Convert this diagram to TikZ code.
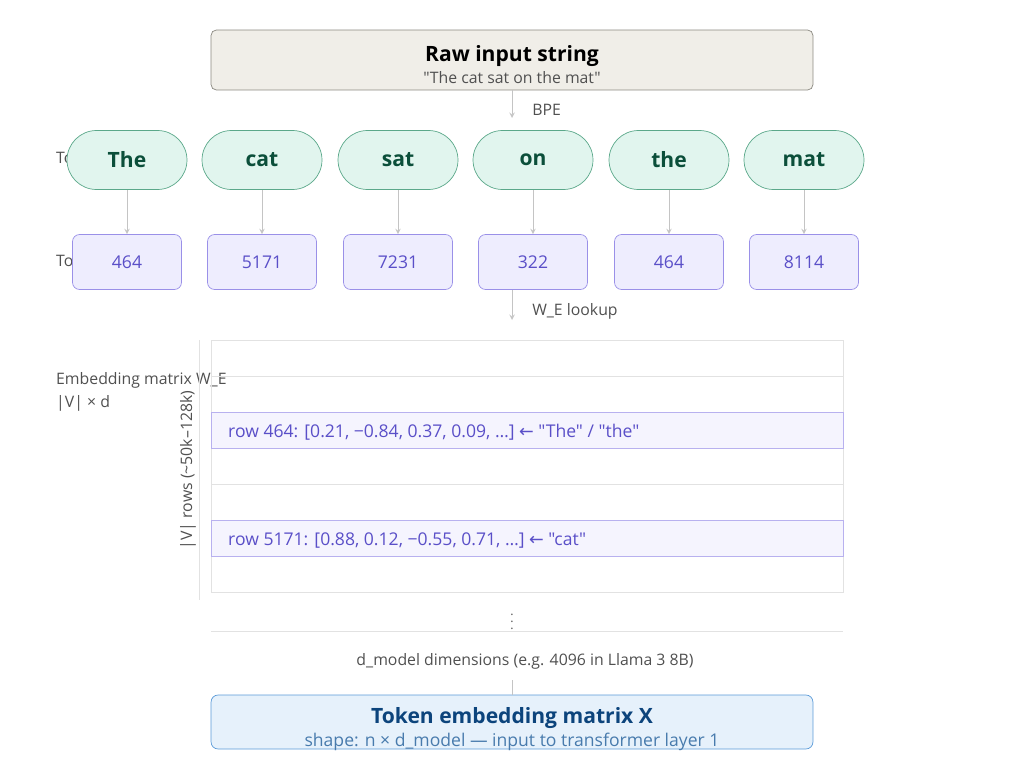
\documentclass[tikz,border=0pt]{standalone}
\usepackage{fontspec}
\setmainfont{Open Sans}[Ligatures=TeXOff]
\newfontfamily\arrowfont{DejaVu Sans}
\usetikzlibrary{positioning}
\definecolor{rawfill}{HTML}{F0EEE8}
\definecolor{rawdraw}{HTML}{8A8880}
\definecolor{tokfill}{HTML}{E1F5EE}
\definecolor{tokdraw}{HTML}{5BA88A}
\definecolor{toktext}{HTML}{0B4F3A}
\definecolor{idfill}{HTML}{EEEDFE}
\definecolor{iddraw}{HTML}{9A90E8}
\definecolor{idtext}{HTML}{5A4FC8}
\definecolor{outfill}{HTML}{E6F1FB}
\definecolor{outdraw}{HTML}{5A9AD8}
\definecolor{outtext}{HTML}{0C447C}
\definecolor{gridline}{HTML}{E2E2E2}
\definecolor{labtext}{HTML}{505050}
\newcommand{\qt}{\symbol{34}}
\newcommand{\larr}{{\arrowfont ←}}
\begin{document}
\begin{tikzpicture}
        [x=0.02cm,y=-0.02cm,>=latex,
         raw/.style={draw=rawdraw,fill=rawfill,rounded corners=3pt,minimum width=12.04cm,minimum height=1.2cm},
         tok/.style={draw=tokdraw,fill=tokfill,rounded corners=0.59cm,minimum width=2.4cm,minimum height=1.18cm,text=toktext,font=\bfseries\large},
         tid/.style={draw=iddraw,fill=idfill,rounded corners=4pt,minimum width=2.18cm,minimum height=1.1cm,text=idtext},
         outbox/.style={draw=outdraw,fill=outfill,rounded corners=4pt,minimum width=12.04cm,minimum height=1.08cm},
         flow/.style={draw=gridline!70!gray,->,>=stealth},
         label/.style={font=\small,text=labtext}]

        \useasboundingbox (0,0) rectangle (1024,767);

        % side labels, partly hidden behind the rows
        \node[label,anchor=west] (toklab) at (50,158) {Tokens};
        \node[label,anchor=west] (idlab) at (50,261) {Token IDs};
        \node[label,anchor=west,align=left] (mlab) at (50,392) {Embedding matrix W\_E\\[2pt]|V| × d};

        \node[raw] (raw) at (512,60) {};
        \node[font=\bfseries\large] (rawt) at (512,56) {Raw input string};
        \node[label] (raws) at (512,78) {\qt The cat sat on the mat\qt};
        \coordinate (bpe) at (512,118);
        \draw[flow] (raw) -- (bpe) node[label,pos=0.7,right=8pt] {BPE};

        \foreach \word/\num/\x [count=\i] in {The/464/127,cat/5171/262,sat/7231/398,on/322/533,the/464/669,mat/8114/804}{
            \node[tok] (t\i) at (\x,160) {\word};
            \node[tid] (id\i) at (\x,262) {\num};
            \draw[flow] (t\i) -- (id\i);
        }

        \coordinate (look) at (512,320);
        \draw[flow] (id4.south -| look) -- (look) node[label,pos=0.7,right=8pt] {W\_E lookup};

        % embedding matrix
        \fill[idfill!60] (211,412) rectangle (843,448);
        \fill[idfill!60] (211,520) rectangle (843,556);
        \draw[gridline] (211,340) rectangle (843,592);
        \foreach \y in {376,484}{\draw[gridline] (211,\y) -- (843,\y);}
        \draw[iddraw!70] (211,412) rectangle (843,448);
        \draw[iddraw!70] (211,520) rectangle (843,556);
        \node[text=idtext,anchor=west] (r464) at (222,432) {row 464: [0.21, −0.84, 0.37, 0.09, …] \larr{} \qt The\qt{} / \qt the\qt};
        \node[text=idtext,anchor=west] (r5171) at (222,541) {row 5171: [0.88, 0.12, −0.55, 0.71, …] \larr{} \qt cat\qt};

        \draw[gridline] (199,340) -- (199,600);
        \node[label,rotate=90] (vrows) at (188,470) {|V| rows (\textasciitilde 50k–128k)};
        \node[text=labtext,font=\scriptsize,inner sep=0pt] (dots) at (512,617) {$\vdots$};
        \draw[gridline] (211,631) -- (843,631);
        \node[label] (dmod) at (525,661) {d\_model dimensions (e.g. 4096 in Llama 3 8B)};

        \node[outbox] (out) at (512,722) {};
        \node[text=outtext,font=\bfseries\large] (outt) at (512,718) {Token embedding matrix X};
        \node[text=outdraw!80!black] (outs) at (512,742) {shape: n × d\_model — input to transformer layer 1};
        \coordinate (dfoot) at (512,680);
        \draw[gridline!70!gray] (dfoot) -- (dfoot |- out.north);
\end{tikzpicture}
\end{document}
